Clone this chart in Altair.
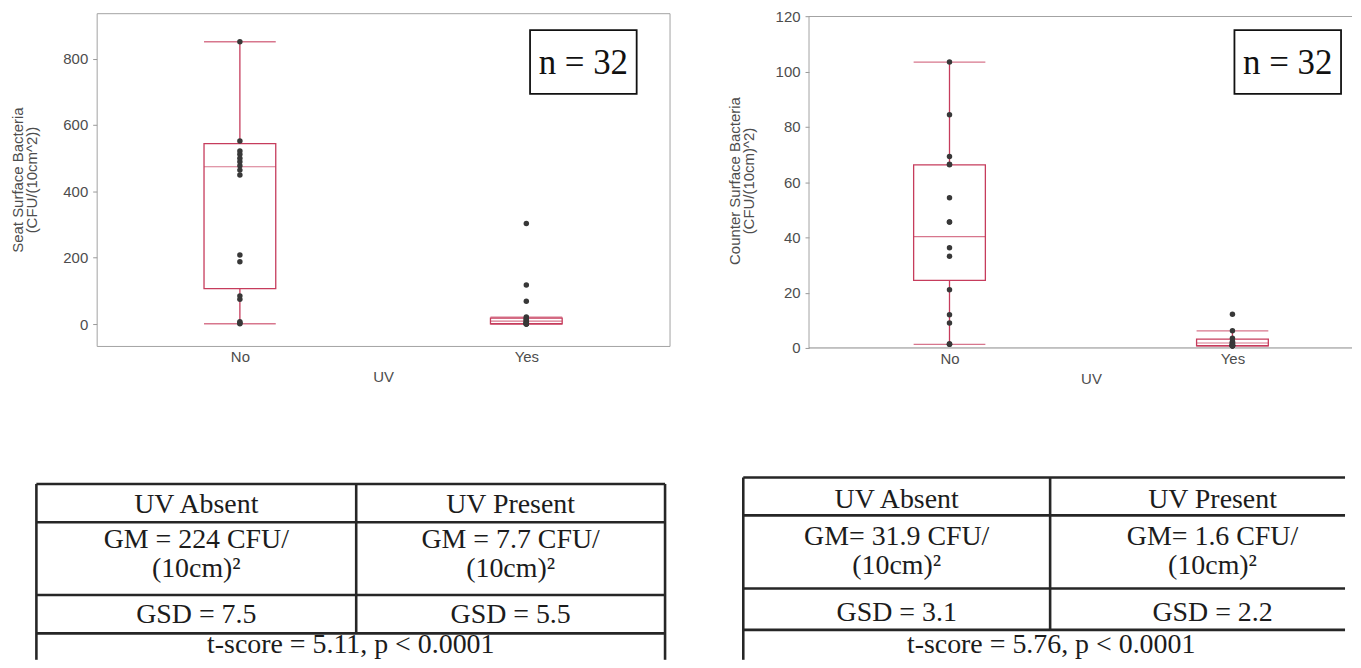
import altair as alt
import pandas as pd

# ---------------- data ----------------
uv_groups = ["No", "Yes"]

# Seat surface (CFU/(10cm^2)) box statistics and points
seat_min = [1, 0]
seat_q1 = [107, 1]
seat_median = [474, 9]
seat_q3 = [544, 18]
seat_max = [851, 21]
seat_points_no = [851, 552, 522, 512, 500, 489, 477, 464, 449, 208, 188, 85, 75, 7, 3, 1]
seat_points_yes = [303, 118, 69, 21, 18, 15, 12, 10, 8, 5, 3, 2, 1, 1, 0, 0]
seat_y_ticks = [0, 200, 400, 600, 800]
seat_title = ["Seat Surface Bacteria", "(CFU/(10cm^2))"]

# Counter surface box statistics and points
counter_min = [1.3, 0.8]
counter_q1 = [24.5, 0.8]
counter_median = [40.3, 1.8]
counter_q3 = [66.3, 3.2]
counter_max = [103.5, 6.2]
counter_points_no = [103.5, 84.4, 69.3, 66.5, 66.3, 54.4, 45.6, 45.6, 36.3, 33.2, 21.1, 12.0, 9.0, 1.5, 1.3, 1.3]
counter_points_yes = [12.2, 6.2, 3.5, 2.3, 2.0, 1.8, 1.5, 1.2, 1.0, 1.0, 0.9, 0.8, 0.8, 0.8, 0.8, 0.8]
counter_y_ticks = [0, 20, 40, 60, 80, 100, 120]
counter_title = ["Counter Surface Bacteria", "(CFU/(10cm)^2)"]

n_label = "n = 32"
x_title = "UV"

# Tables (GM cells are two lines each)
seat_table_header = ["UV Absent", "UV Present"]
seat_table_gm_line1 = ["GM = 224 CFU/", "GM = 7.7 CFU/"]
seat_table_gm_line2 = ["(10cm)²", "(10cm)²"]
seat_table_gsd = ["GSD = 7.5", "GSD = 5.5"]
seat_table_t = "t-score = 5.11, p < 0.0001"

counter_table_header = ["UV Absent", "UV Present"]
counter_table_gm_line1 = ["GM= 31.9 CFU/", "GM= 1.6 CFU/"]
counter_table_gm_line2 = ["(10cm)²", "(10cm)²"]
counter_table_gsd = ["GSD = 3.1", "GSD = 2.2"]
counter_table_t = "t-score = 5.76, p < 0.0001"

# ---------------- styles / layout ----------------
BOX = "#c63c5c"
PT = "#383838"
AX = "#4d4d4d"
FRAME = "#a3a3a3"
SANS = "Liberation Sans"
SERIF = "Liberation Serif"
BOX_W = 72


def box_panel(mins, q1s, meds, q3s, maxs, pts_no, pts_yes, ytitle, ydomain, yticks,
              width, height, xscale, title_pad, nbox, frame_top):
    stats = pd.DataFrame({"UV": uv_groups, "lo": mins, "q1": q1s, "med": meds,
                          "q3": q3s, "hi": maxs})
    pts = pd.DataFrame({"UV": ["No"] * len(pts_no) + ["Yes"] * len(pts_yes),
                        "v": pts_no + pts_yes})
    yscale = alt.Scale(domain=ydomain, nice=False, zero=False)
    yaxis = alt.Axis(title=ytitle, values=yticks, grid=False, domain=False, tickSize=4,
                     tickColor="#999999", labelPadding=5, titlePadding=title_pad,
                     titleLineHeight=14)
    xaxis = alt.Axis(title=x_title, labelAngle=0, domain=False, ticks=False,
                     labelPadding=4, titlePadding=5)

    def X():
        return alt.X("UV:N", scale=xscale, sort=uv_groups, axis=xaxis)

    def Y(f):
        return alt.Y(f, scale=yscale, axis=yaxis)

    base = alt.Chart(stats)
    whisk = base.mark_rule(color=BOX, strokeWidth=1.3).encode(x=X(), y=Y("lo:Q"), y2="hi:Q")
    box = base.mark_bar(size=BOX_W, fill="white", stroke=BOX, strokeWidth=1.3).encode(
        x=X(), y=Y("q1:Q"), y2="q3:Q")
    med = base.mark_tick(orient="horizontal", size=BOX_W, thickness=1.1, color=BOX).encode(
        x=X(), y=Y("med:Q"))
    cap_lo = base.mark_tick(orient="horizontal", size=BOX_W, thickness=1.3, color=BOX).encode(
        x=X(), y=Y("lo:Q"))
    cap_hi = base.mark_tick(orient="horizontal", size=BOX_W, thickness=1.3, color=BOX).encode(
        x=X(), y=Y("hi:Q"))
    dots = alt.Chart(pts).mark_circle(size=30, color=PT, opacity=1).encode(x=X(), y=Y("v:Q"))

    ann = pd.DataFrame({"label": [n_label]})
    bx0, bx1, by0, by1 = nbox
    nrect = alt.Chart(ann).mark_rect(fill="white", stroke="#111111", strokeWidth=1.8).encode(
        x=alt.value(bx0), x2=alt.value(bx1), y=alt.value(by0), y2=alt.value(by1))
    ntext = alt.Chart(ann).mark_text(font=SERIF, fontSize=35, color="#111111",
                                     baseline="middle", align="center").encode(
        x=alt.value((bx0 + bx1) / 2), y=alt.value((by0 + by1) / 2 + 1), text="label:N")

    layers = []
    if frame_top is not None:
        fr = alt.Chart(ann)
        layers += [
            fr.mark_rule(color=FRAME, strokeWidth=1).encode(
                x=alt.value(0), x2=alt.value(width), y=alt.datum(frame_top)),
            fr.mark_rule(color=FRAME, strokeWidth=1).encode(
                x=alt.value(0), y=alt.datum(frame_top), y2=alt.datum(ydomain[0])),
            fr.mark_rule(color="#8a8a8a", strokeWidth=1).encode(
                x=alt.value(0), x2=alt.value(width), y=alt.datum(ydomain[0])),
        ]
    layers += [whisk, box, med, cap_lo, cap_hi, dots, nrect, ntext]
    ch = alt.layer(*layers).properties(width=width, height=height)
    if frame_top is None:
        ch = ch.properties(view=alt.ViewBackground(stroke=FRAME, strokeWidth=1))
    return ch


def table_panel(header, gm1, gm2, gsd, tline, col_edges, line_right, row_edges, text_y, t_x,
                width, height, right_border):
    left, mid, right = col_edges
    top, r1, r2, r3 = row_edges
    h = pd.DataFrame({"x": [left] * 4, "x2": [line_right] * 4, "y": [top, r1, r2, r3]})
    vx = [left, mid] + ([right] if right_border else [])
    vy = [top, top] + ([top] if right_border else [])
    vy2 = [height, r3] + ([height] if right_border else [])
    v = pd.DataFrame({"x": vx, "y": vy, "y2": vy2})
    c0 = (left + mid) / 2
    c1 = (mid + right) / 2
    yh, yg1, yg2, ys_, yt = text_y
    cells = pd.DataFrame({
        "x": [c0, c1, c0, c1, c0, c1, c0, c1, t_x],
        "y": [yh, yh, yg1, yg1, yg2, yg2, ys_, ys_, yt],
        "t": header + gm1 + gm2 + gsd + [tline],
    })
    xs = alt.Scale(domain=[0, width], nice=False, zero=False)
    ys = alt.Scale(domain=[0, height], nice=False, zero=False, reverse=True)
    hl = alt.Chart(h).mark_rule(color="#262626", strokeWidth=2.6).encode(
        x=alt.X("x:Q", scale=xs, axis=None), x2="x2:Q", y=alt.Y("y:Q", scale=ys, axis=None))
    vl = alt.Chart(v).mark_rule(color="#262626", strokeWidth=2.6).encode(
        x=alt.X("x:Q", scale=xs, axis=None), y=alt.Y("y:Q", scale=ys, axis=None), y2="y2:Q")
    tx = alt.Chart(cells).mark_text(font=SERIF, fontSize=28, color="#1c1c1c",
                                    baseline="middle", align="center").encode(
        x=alt.X("x:Q", scale=xs, axis=None), y=alt.Y("y:Q", scale=ys, axis=None), text="t:N")
    return alt.layer(hl, vl, tx).properties(width=width, height=height,
                                            view=alt.ViewBackground(stroke=None))


p1 = box_panel(seat_min, seat_q1, seat_median, seat_q3, seat_max,
               seat_points_no, seat_points_yes, seat_title, [-66, 937], seat_y_ticks,
               575, 334, alt.Scale(type="point", padding=0.5), 23,
               (435, 542, 17, 81), None)
p2 = box_panel(counter_min, counter_q1, counter_median, counter_q3, counter_max,
               counter_points_no, counter_points_yes, counter_title, [0, 121.2], counter_y_ticks,
               545, 336, alt.Scale(type="point", range=[141, 425], padding=0), 19,
               (427, 534, 17, 81), 120)

# table panels: row 2 shares the x origin of the first plot area
TH = 184
t1 = table_panel(seat_table_header, seat_table_gm_line1, seat_table_gm_line2, seat_table_gsd,
                 seat_table_t,
                 (-60.5, 260.5, 570.5), 570.5, (7.5, 46, 119, 157.5),
                 (29, 63.5, 92.5, 139, 169), 255, 575, TH, True)
t2 = table_panel(counter_table_header, counter_table_gm_line1, counter_table_gm_line2,
                 counter_table_gsd, counter_table_t,
                 (2, 310, 636), 606, (1, 39, 112.5, 154), (24, 61, 90, 137, 169), 311,
                 606, TH, False)

top_row = alt.hconcat(p1, p2, spacing=56)
bottom_row = alt.hconcat(t1, t2, spacing=72)

chart = alt.vconcat(top_row, bottom_row, spacing=89).properties(
    padding={"top": 0, "left": 2, "right": 0, "bottom": 0},
    background="white",
).configure_view(stroke=None).configure_axis(
    labelFont=SANS, labelFontSize=15, labelColor=AX,
    titleFont=SANS, titleFontSize=15, titleFontWeight="normal", titleColor=AX,
)

chart.save("out.html", embed_options={"renderer": "svg", "actions": False})
